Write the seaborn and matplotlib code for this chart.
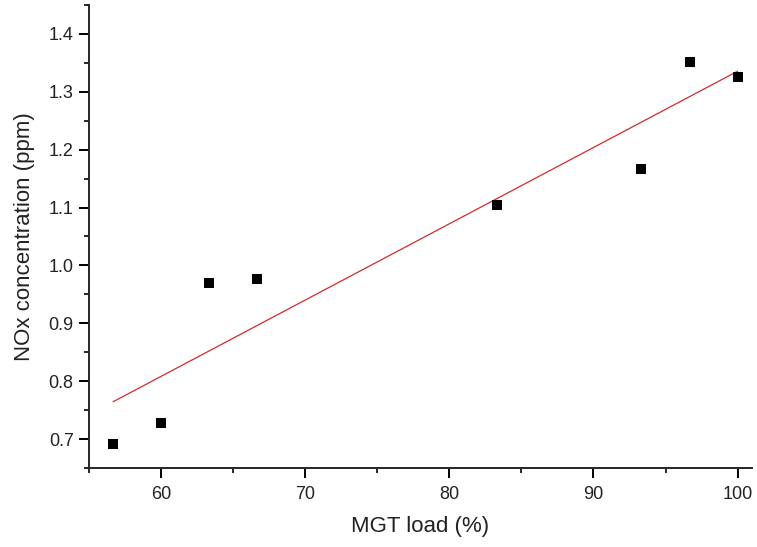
import numpy as np
import pandas as pd
import matplotlib
matplotlib.use("Agg")
import matplotlib.pyplot as plt
from matplotlib.ticker import MultipleLocator, FormatStrFormatter
import seaborn as sns

# --- Data ---
mgt_load = [56.67, 60.0, 63.33, 66.67, 83.33, 93.33, 96.67, 100.0]
nox_ppm = [0.691, 0.728, 0.969, 0.976, 1.104, 1.166, 1.352, 1.326]

df = pd.DataFrame({"load": mgt_load, "nox": nox_ppm})

# linear fit across the measured range
slope, intercept = np.polyfit(df["load"], df["nox"], 1)
fit = pd.DataFrame({"load": [min(mgt_load), max(mgt_load)]})
fit["nox"] = slope * fit["load"] + intercept

sns.set_style("ticks")
plt.rcParams["font.family"] = ["Liberation Sans", "DejaVu Sans"]

fig = plt.figure(figsize=(7.57, 5.47), dpi=100)
ax = fig.add_axes([0.1176, 0.1444, 0.8758, 0.8465])

sns.lineplot(data=fit, x="load", y="nox", color="#d42a2a", linewidth=0.9, ax=ax)
sns.scatterplot(data=df, x="load", y="nox", marker="s", s=60, color="black",
                edgecolor="black", linewidth=0, zorder=3, ax=ax)

ax.set_xlim(55, 101)
ax.set_ylim(0.65, 1.45)
ax.xaxis.set_major_locator(MultipleLocator(10))
ax.xaxis.set_minor_locator(MultipleLocator(5))
ax.yaxis.set_major_locator(MultipleLocator(0.1))
ax.yaxis.set_minor_locator(MultipleLocator(0.05))
ax.yaxis.set_major_formatter(FormatStrFormatter("%.1f"))

sns.despine(ax=ax)
for side in ["left", "bottom"]:
    ax.spines[side].set_linewidth(1.4)
ax.tick_params(which="major", direction="out", length=7, width=1.4,
               labelsize=13, colors="black", labelcolor="#222222")
ax.tick_params(axis="x", which="major", pad=6)
ax.tick_params(axis="y", which="major", pad=4)
ax.tick_params(which="minor", direction="out", length=3.5, width=1.4)

ax.set_xlabel("MGT load (%)", fontsize=16, labelpad=9, color="#222222")
ax.set_ylabel("NOx concentration (ppm)", fontsize=16, labelpad=10, color="#222222")

fig.savefig("out.png", dpi=100)
plt.close(fig)
